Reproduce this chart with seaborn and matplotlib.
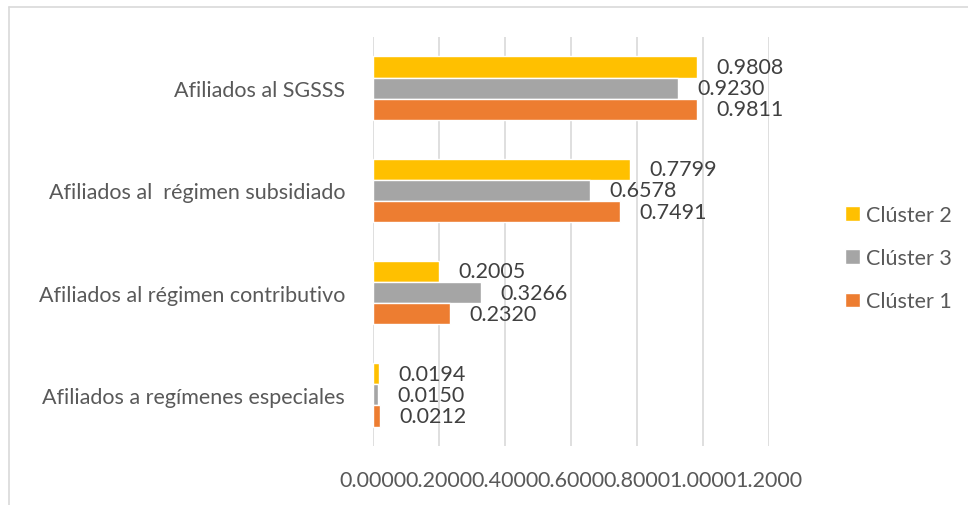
import matplotlib
matplotlib.use("Agg")
import matplotlib.pyplot as plt
import seaborn as sns
import pandas as pd
from matplotlib.lines import Line2D
from matplotlib.ticker import FormatStrFormatter

categories = ["Afiliados al SGSSS", "Afiliados al  régimen subsidiado",
              "Afiliados al régimen contributivo", "Afiliados a regímenes especiales"]
series = ["Clúster 2", "Clúster 3", "Clúster 1"]
cluster2 = [0.9808, 0.7799, 0.2005, 0.0194]
cluster3 = [0.9230, 0.6578, 0.3266, 0.0150]
cluster1 = [0.9811, 0.7491, 0.2320, 0.0212]
colors = ["#FFC000", "#A5A5A5", "#ED7D31"]
xticks = [0.0, 0.2, 0.4, 0.6, 0.8, 1.0, 1.2]

rows = []
for s, vals in zip(series, [cluster2, cluster3, cluster1]):
    for c, v in zip(categories, vals):
        rows.append({"cat": c, "series": s, "value": v})
df = pd.DataFrame(rows)

sns.set_style("white")
plt.rcParams["font.family"] = ["Lato", "DejaVu Sans"]
fs = 15.5
txt = "#404040"
lab = "#595959"

fig = plt.figure(figsize=(9.68, 5.06), dpi=100)
ax = fig.add_axes([373/968, 1-447/506, 396/968, 409/506])

sns.barplot(data=df, y="cat", x="value", hue="series", order=categories,
            hue_order=series, palette=colors, orient="h", width=0.62,
            gap=0, ax=ax, saturation=1, legend=True)

ax.set_xlim(0, 1.2)
ax.set_xticks(xticks)
ax.xaxis.set_major_formatter(FormatStrFormatter("%.4f"))
ax.grid(axis="x", color="#d9d9d9", linewidth=1.2)
ax.set_axisbelow(True)
for sp in ax.spines.values():
    sp.set_visible(False)
ax.set_xlabel("")
ax.set_ylabel("")
ax.tick_params(axis="x", length=0, pad=17, labelsize=fs, labelcolor=lab)
ax.tick_params(axis="y", length=0, pad=20, labelsize=fs, labelcolor=lab)

for cont in ax.containers:
    ax.bar_label(cont, fmt="%.4f", padding=14, fontsize=fs, color=txt)

handles, labels = ax.get_legend_handles_labels()
ax.legend(handles, labels, loc="upper left", bbox_to_anchor=(845/968, 1-206/506),
          bbox_transform=fig.transFigure, frameon=False, fontsize=fs,
          labelcolor=lab, handlelength=0.68, handleheight=0.68,
          handletextpad=0.3, labelspacing=1.08, borderpad=0, borderaxespad=0)

fig.add_artist(Line2D([9/968, 1], [1-8/506, 1-8/506], transform=fig.transFigure,
                      color="#d9d9d9", linewidth=1.2))
fig.add_artist(Line2D([9/968, 9/968], [0, 1-8/506], transform=fig.transFigure,
                      color="#d9d9d9", linewidth=1.2))

fig.savefig("out.png", dpi=100)
